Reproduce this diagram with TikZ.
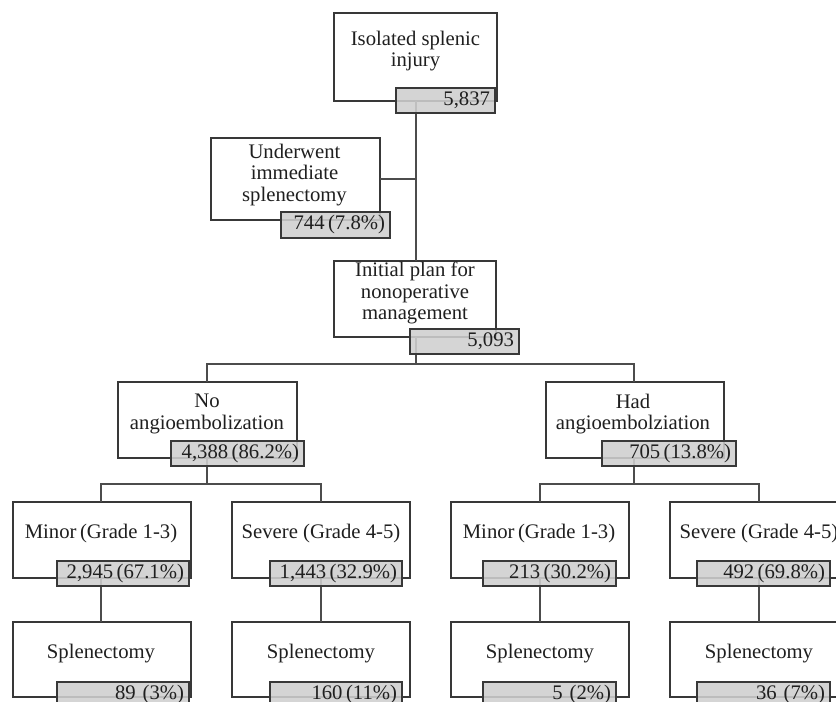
\documentclass[tikz,border=0pt]{standalone}
\usepackage{fontspec}
\setmainfont{Liberation Serif}
\begin{document}
\begin{tikzpicture}[x=1pt,y=-1pt,
  every node/.style={font=\fontsize{20.7}{21.3}\selectfont, text=black!88},
  box/.style={draw=black!78, line width=1.3pt, fill=white, inner sep=0pt, outer sep=0pt},
  gbox/.style={draw=black!78, line width=1.3pt, fill=black!19, fill opacity=0.88, text opacity=1,
     inner xsep=5pt, inner ysep=0pt, minimum height=25pt, align=right, outer sep=0pt},
  lbl/.style={align=center, inner sep=0pt},
  conn/.style={draw=black!70, line width=1.3pt}]
\useasboundingbox (0,0) rectangle (836,702);
\clip (0,0) rectangle (836,702);
% main boxes
\node[box, minimum width=163pt, minimum height=88pt] (top) at (415.5,57) {};
\node[box, minimum width=169pt, minimum height=82pt] (under) at (295.5,179) {};
\node[box, minimum width=162pt, minimum height=76pt] (init) at (415,299) {};
\node[box, minimum width=179pt, minimum height=76pt] (noang) at (207.5,420) {};
\node[box, minimum width=178pt, minimum height=76pt] (had) at (635,420) {};
\node[box, minimum width=178pt, minimum height=76pt] (minA) at (102,540) {};
\node[box, minimum width=178pt, minimum height=76pt] (sevA) at (321,540) {};
\node[box, minimum width=178pt, minimum height=76pt] (minB) at (540,540) {};
\node[box, minimum width=178pt, minimum height=76pt] (sevB) at (759,540) {};
\node[box, minimum width=178pt, minimum height=75pt] (splA) at (102,659.5) {};
\node[box, minimum width=178pt, minimum height=75pt] (splB) at (321,659.5) {};
\node[box, minimum width=178pt, minimum height=75pt] (splC) at (540,659.5) {};
\node[box, minimum width=178pt, minimum height=75pt] (splD) at (759,659.5) {};
% junctions
\coordinate (j0) at (416,179);
\coordinate (j1) at (416,364);
\coordinate (jA) at (207,484);
\coordinate (jB) at (634,484);
% connectors
\draw[conn] (top.south -| j0) -- (init.north -| j0);
\draw[conn] (under.east) -- (j0);
\draw[conn] (init.south -| j1) -- (j1);
\draw[conn] (noang.north -| jA) |- (j1) -| (had.north -| jB);
\draw[conn] (noang.south -| jA) -- (jA);
\draw[conn] (minA.north -| 101,0) |- (jA) -| (sevA.north);
\draw[conn] (had.south -| jB) -- (jB);
\draw[conn] (minB.north) |- (jB) -| (sevB.north);
\draw[conn] (minA.south -| 101,0) -- (splA.north -| 101,0);
\draw[conn] (sevA.south) -- (splB.north);
\draw[conn] (minB.south) -- (splC.north);
\draw[conn] (sevB.south) -- (splD.north);
% labels
\node[lbl] (topt) at (415.5,51) {Isolated splenic\\injury};
\node[lbl] (undert) at (294.5,175) {Underwent\\immediate\\splenectomy};
\node[lbl] (initt) at (415,293) {Initial plan for\\nonoperative\\management};
\node[lbl] (noangt) at (207,414) {No\\angioembolization};
\node[lbl] (hadt) at (633,414) {Had\\angioembolziation};
\node[lbl] (minAt) at (101,534) {Minor\,(Grade 1-3)};
\node[lbl] (sevAt) at (321,534) {Severe (Grade 4-5)};
\node[lbl] (minBt) at (539,534) {Minor\,(Grade 1-3)};
\node[lbl] (sevBt) at (759,534) {Severe (Grade 4-5)};
\node[lbl] (splAt) at (101,654) {Splenectomy};
\node[lbl] (splBt) at (321,654) {Splenectomy};
\node[lbl] (splCt) at (540,654) {Splenectomy};
\node[lbl] (splDt) at (759,654) {Splenectomy};
% grey count boxes
\node[gbox, text width=89pt] (topg) at (445.5,100.5) {5,837};
\node[gbox, text width=99pt, minimum height=26pt] (underg) at (335.5,225) {744\,(7.8\%)};
\node[gbox, text width=99pt] (initg) at (464.5,341.5) {5,093};
\node[gbox, text width=123pt] (noangg) at (237.5,453.5) {4,388\,(86.2\%)};
\node[gbox, text width=124pt] (hadg) at (669,453.5) {705\,(13.8\%)};
\node[gbox, text width=122pt] (minAg) at (123,573.5) {2,945\,(67.1\%)};
\node[gbox, text width=122pt] (sevAg) at (336,573.5) {1,443\,(32.9\%)};
\node[gbox, text width=123pt] (minBg) at (549.5,573.5) {213\,(30.2\%)};
\node[gbox, text width=123pt] (sevBg) at (763.5,573.5) {492\,(69.8\%)};
\node[gbox, text width=122pt] (splAg) at (123,694.5) {89 (3\%)};
\node[gbox, text width=122pt] (splBg) at (336,694.5) {160\,(11\%)};
\node[gbox, text width=123pt] (splCg) at (549.5,694.5) {5 (2\%)};
\node[gbox, text width=123pt] (splDg) at (763.5,694.5) {36 (7\%)};
\end{tikzpicture}
\end{document}
